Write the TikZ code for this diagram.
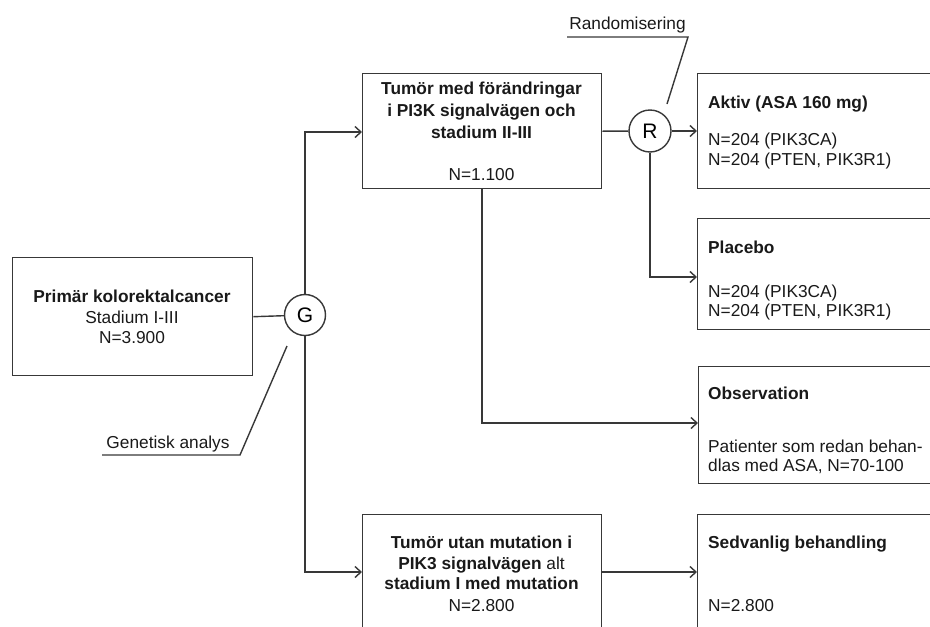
\documentclass[tikz,border=0pt]{standalone}
\usepackage{fontspec}
\setmainfont{Liberation Sans}
\usetikzlibrary{arrows.meta}
\begin{document}
\begin{tikzpicture}[x=1pt,y=-1pt,
  line/.style={draw=black!78, line width=1.4pt},
  arr/.style={line, -{Straight Barb[length=6pt,width=11pt,line width=1.4pt]}},
  box/.style={line, rectangle, inner sep=0pt, anchor=north west},
  circ/.style={line, circle, fill=white, minimum size=41pt, inner sep=0pt, font=\fontsize{21}{21}\selectfont},
  txt/.style={inner sep=0pt, text=black!90, font=\fontsize{17.3}{20}\selectfont},
  ]
\useasboundingbox (0,0) rectangle (930,627);
\clip (0,0) rectangle (930,627);

% boxes
\node[box, minimum width=240pt, minimum height=118pt] (lbox) at (12,257) {};
\node[box, minimum width=239pt, minimum height=115pt] (tbox) at (362,73) {};
\node[box, minimum width=260pt, minimum height=115pt] (aktiv) at (697,73) {};
\node[box, minimum width=260pt, minimum height=111pt] (placebo) at (697,218) {};
\node[box, minimum width=260pt, minimum height=117pt] (obs) at (698,366) {};
\node[box, minimum width=239pt, minimum height=116pt] (bbox) at (362,514) {};
\node[box, minimum width=260pt, minimum height=116pt] (sed) at (697,514) {};

% circles
\node[circ] (G) at (305,315) {G};
\node[circ, minimum size=42pt] (R) at (650,131) {R};

% texts: left box
\node[txt, anchor=base] (l1) at (132,302) {\bfseries Primär kolorektalcancer};
\node[txt, anchor=base] (l2) at (132,323) {Stadium I-III};
\node[txt, anchor=base] (l3) at (132,343) {N=3.900};
% top box
\node[txt, anchor=base] (t1) at (481.5,94) {\bfseries Tumör med förändringar};
\node[txt, anchor=base] (t2) at (481.5,116) {\bfseries i PI3K signalvägen och};
\node[txt, anchor=base] (t3) at (481.5,138) {\bfseries stadium II-III};
\node[txt, anchor=base] (t4) at (481.5,180) {N=1.100};
% aktiv
\node[txt, anchor=base west] (a1) at (708,108) {\bfseries Aktiv (ASA 160 mg)};
\node[txt, anchor=base west] (a2) at (708,145) {N=204 (PIK3CA)};
\node[txt, anchor=base west] (a3) at (708,165) {N=204 (PTEN, PIK3R1)};
% placebo
\node[txt, anchor=base west] (p1) at (708,253) {\bfseries Placebo};
\node[txt, anchor=base west] (p2) at (708,297) {N=204 (PIK3CA)};
\node[txt, anchor=base west] (p3) at (708,316) {N=204 (PTEN, PIK3R1)};
% observation
\node[txt, anchor=base west] (o1) at (708,399) {\bfseries Observation};
\node[txt, anchor=base west] (o2) at (708,452) {Patienter som redan behan-};
\node[txt, anchor=base west] (o3) at (708,471) {dlas med ASA, N=70-100};
% bottom left
\node[txt, anchor=base] (b1) at (481.5,548) {\bfseries Tumör utan mutation i};
\node[txt, anchor=base] (b2) at (481.5,569) {\bfseries PIK3 signalvägen \mdseries alt};
\node[txt, anchor=base] (b3) at (481.5,589) {\bfseries stadium I med mutation};
\node[txt, anchor=base] (b4) at (481.5,611) {N=2.800};
% sedvanlig
\node[txt, anchor=base west] (s1) at (708,548) {\bfseries Sedvanlig behandling};
\node[txt, anchor=base west] (s2) at (708,611) {N=2.800};

% labels
\node[txt, anchor=base] (rlab) at (627.5,29) {Randomisering};
\node[txt, anchor=base] (glab) at (168,448) {Genetisk analys};
\coordinate (ru1) at (567,37);
\coordinate (ru2) at (688,37);
\coordinate (ru3) at (667,104);
\coordinate (gu1) at (102,455);
\coordinate (gu2) at (240,455);
\coordinate (gu3) at (287,346);
\draw[line] (ru1) -- (ru2) -- (ru3);
\draw[line] (gu1) -- (gu2) -- (gu3);

% connectors
\coordinate (gtop) at (305,132);
\coordinate (gbot) at (305,572);
\coordinate (rturn) at (650,277);
\coordinate (oturn) at (482,423);
\draw[line] (lbox.east) -- (G);
\draw[arr] (G) -- (gtop) -- (gtop -| tbox.west);
\draw[arr] (G) -- (gbot) -- (gbot -| bbox.west);
\draw[line] (tbox.east) -- (R);
\draw[arr] (R) -- (R -| aktiv.west);
\draw[arr] (R) -- (rturn) -- (rturn -| placebo.west);
\draw[arr] (tbox.south -| oturn) -- (oturn) -- (oturn -| obs.west);
\draw[arr] (bbox.east |- gbot) -- (gbot -| sed.west);
\end{tikzpicture}
\end{document}
